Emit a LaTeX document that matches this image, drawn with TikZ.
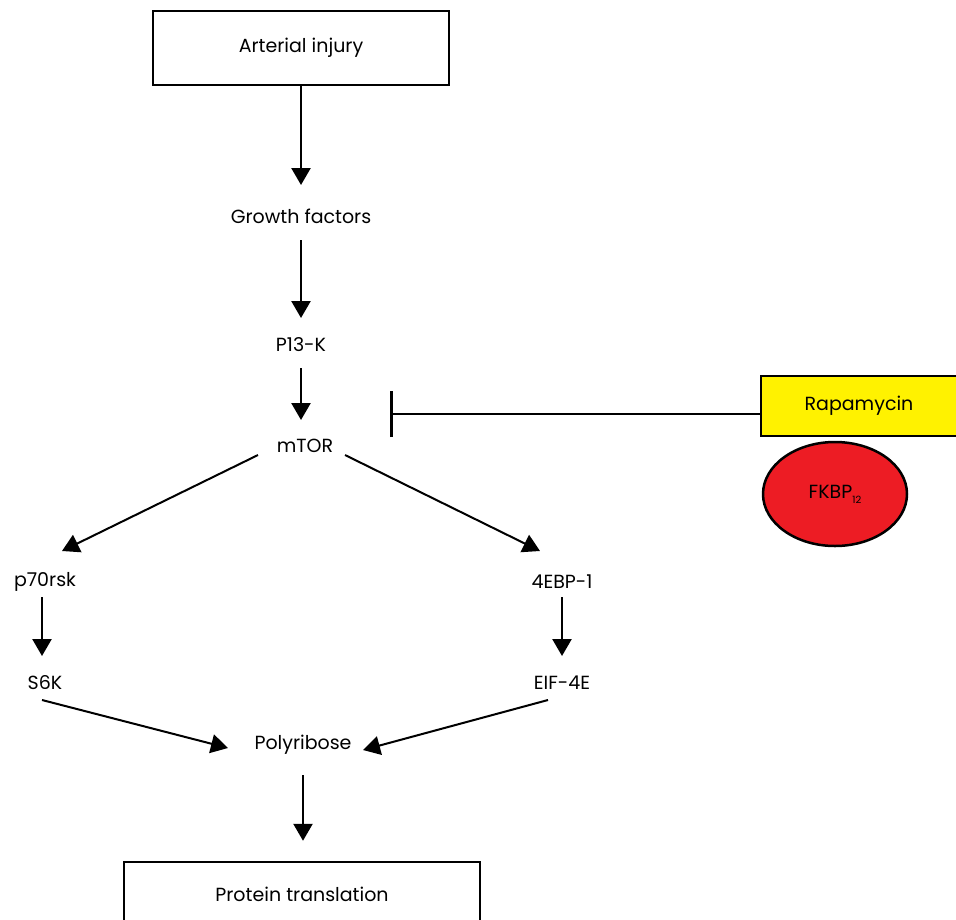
\documentclass[tikz,border=0pt]{standalone}
\usepackage{fontspec}
\setmainfont{Poppins}
\usepackage{xcolor}
\usetikzlibrary{shapes.geometric}
\usetikzlibrary{arrows.meta}
\usetikzlibrary{positioning,calc}
\definecolor{rapayellow}{HTML}{FFF200}
\definecolor{fkbpred}{HTML}{ED1C24}
\begin{document}
\begin{tikzpicture}[x=1pt,y=-1pt,
          font=\fontsize{19}{22}\selectfont,
          box/.style={draw,line width=2.5pt,minimum width=296pt,minimum height=74pt},
          lbl/.style={inner sep=2pt},
          arr/.style={-{Triangle[length=17pt,width=19pt]},line width=2.5pt},
          slant/.style={-{Triangle[length=17pt,width=19pt]},line width=2pt}]
          \useasboundingbox (0,0) rectangle (956,919);
          \node[box](inj) at (301,48){Arterial injury};
          \node[lbl](gf) at (301,216){Growth factors};
          \node[lbl](pik) at (301,345){P13-K};
          \node[lbl](mtor) at (305,446){mTOR};
          \node[lbl](p70) at (45,582){p70rsk};
          \node[lbl](ebp) at (562,582){4EBP-1};
          \node[lbl](s6k) at (45,683){S6K};
          \node[lbl](eif) at (562,683){EIF-4E};
          \node[lbl](poly) at (303,745){Polyribose};
          \node[box,minimum width=356pt,minimum height=64pt](prot) at (302,894){Protein translation};
          \node[draw,line width=2.5pt,fill=rapayellow,minimum width=196pt,minimum height=60pt](rapa) at (859,406){Rapamycin};
          \node[draw,ellipse,line width=2.5pt,fill=fkbpred,minimum width=144pt,minimum height=104pt](fkbp) at (835,494){FKBP\raisebox{-5pt}{\fontsize{10}{11}\selectfont 12}};
          % main chain
          \draw[arr](inj.south)--($(gf)+(0,-31)$);
          \draw[arr]($(gf)+(0,24)$)--($(pik)+(0,-27)$);
          \draw[arr]($(pik)+(0,23)$)--($(pik|-mtor)+(0,-26)$);
          \draw[slant]($(mtor)+(-47,9)$)--($(p70)+(17,-31)$);
          \draw[slant]($(mtor)+(40,9)$)--($(ebp)+(-22,-31)$);
          \draw[arr]($(p70)+(-3,15)$)--($(p70|-s6k)+(-3,-27)$);
          \draw[arr]($(ebp)+(0,15)$)--($(eif)+(0,-27)$);
          \draw[slant]($(s6k)+(-3,17)$)--($(poly)+(-75,3)$);
          \draw[slant]($(eif)+(-14,17)$)--($(poly)+(60,5)$);
          \draw[arr]($(poly)+(0,30)$)--($(poly|-prot.north)+(0,-20)$);
          % inhibition
          \draw[-{Bar[width=46pt,line width=2.5pt]},line width=2.5pt]($(rapa.west)+(0,8)$)--($(mtor)+(85,-32)$);
        \end{tikzpicture}
\end{document}
